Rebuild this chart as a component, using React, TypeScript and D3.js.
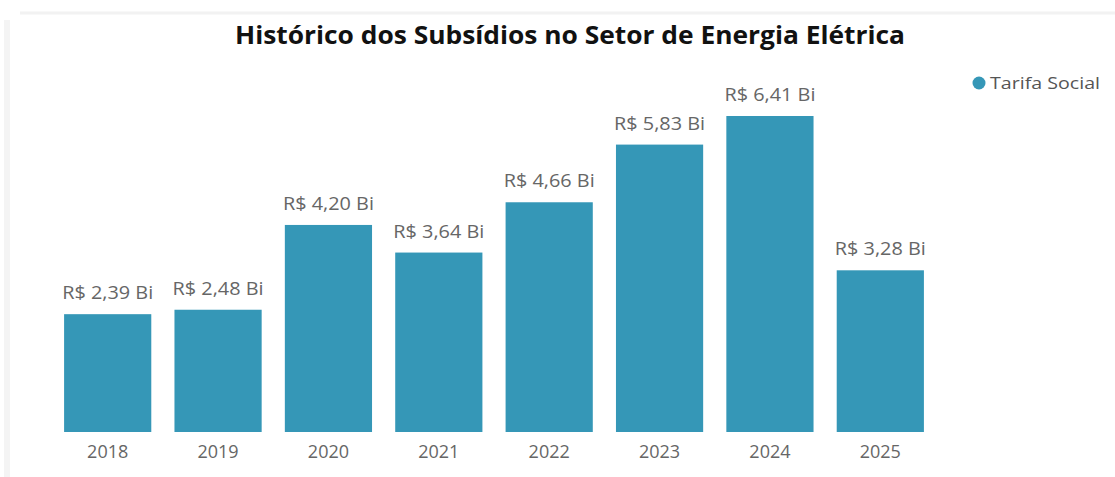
import React, { useEffect, useRef } from 'react';
import * as d3 from 'd3';

const years = ['2018', '2019', '2020', '2021', '2022', '2023', '2024', '2025'];
const values = [2.39, 2.48, 4.20, 3.64, 4.66, 5.83, 6.41, 3.28];
const seriesName = 'Tarifa Social';
const title = 'Histórico dos Subsídios no Setor de Energia Elétrica';

const App: React.FC = () => {
  const ref = useRef<SVGSVGElement | null>(null);

  useEffect(() => {
    const width = 1115;
    const height = 477;
    const color = '#3597b7';
    const font = '"Open Sans", "Noto Sans", sans-serif';

    const svg = d3.select(ref.current)
      .attr('width', width)
      .attr('height', height)
      .style('background', '#ffffff');
    svg.selectAll('*').remove();

    // faint card edges (top and left only)
    svg.append('line')
      .attr('x1', 20).attr('x2', width).attr('y1', 13).attr('y2', 13)
      .attr('stroke', '#f2f2f2').attr('stroke-width', 3);
    svg.append('line')
      .attr('x1', 7).attr('x2', 7).attr('y1', 20).attr('y2', height)
      .attr('stroke', '#f4f4f4').attr('stroke-width', 6);

    svg.append('text')
      .attr('x', 570)
      .attr('y', 44)
      .attr('text-anchor', 'middle')
      .attr('font-family', font)
      .attr('font-weight', 700)
      .attr('font-size', 25)
      .attr('fill', '#111')
      .attr('textLength', 670)
      .attr('lengthAdjust', 'spacingAndGlyphs')
      .text(title);

    const x = d3.scaleBand<string>()
      .domain(years)
      .range([52.5, 935.5])
      .paddingInner(0.21)
      .paddingOuter(0.105);

    const y = d3.scaleLinear()
      .domain([0, d3.max(values)!])
      .range([432, 116]);

    const g = svg.append('g');

    g.selectAll('rect.bar')
      .data(values)
      .join('rect')
        .attr('class', 'bar')
        .attr('x', (_, i) => x(years[i])!)
        .attr('y', d => y(d))
        .attr('width', x.bandwidth())
        .attr('height', d => y(0) - y(d))
        .attr('fill', color);

    g.selectAll('text.val')
      .data(values)
      .join('text')
        .attr('class', 'val')
        .attr('x', (_, i) => x(years[i])! + x.bandwidth() / 2)
        .attr('y', d => y(d) - 15)
        .attr('text-anchor', 'middle')
        .attr('font-family', font)
        .attr('font-size', 18)
        .attr('fill', '#666')
        .attr('textLength', 91)
        .attr('lengthAdjust', 'spacingAndGlyphs')
        .text(d => `R$ ${d3.format('.2f')(d).replace('.', ',')} Bi`);

    const axis = d3.axisBottom(x).tickSize(0).tickPadding(13);
    const ax = svg.append('g')
      .attr('transform', `translate(0,${y(0)})`)
      .call(axis);
    ax.select('.domain').remove();
    ax.selectAll('text')
      .attr('font-family', font)
      .attr('font-size', 18)
      .attr('fill', '#666');

    const legend = svg.append('g').attr('transform', 'translate(979,83)');
    legend.append('circle').attr('r', 6.5).attr('fill', color);
    legend.append('text')
      .attr('x', 11)
      .attr('dy', '0.35em')
      .attr('font-family', font)
      .attr('font-size', 17)
      .attr('fill', '#555')
      .attr('textLength', 110)
      .attr('lengthAdjust', 'spacingAndGlyphs')
      .text(seriesName);
  }, []);

  return <svg ref={ref} style={{ position: 'absolute', left: 0, top: 0, display: 'block' }}></svg>;
};

export default App;
